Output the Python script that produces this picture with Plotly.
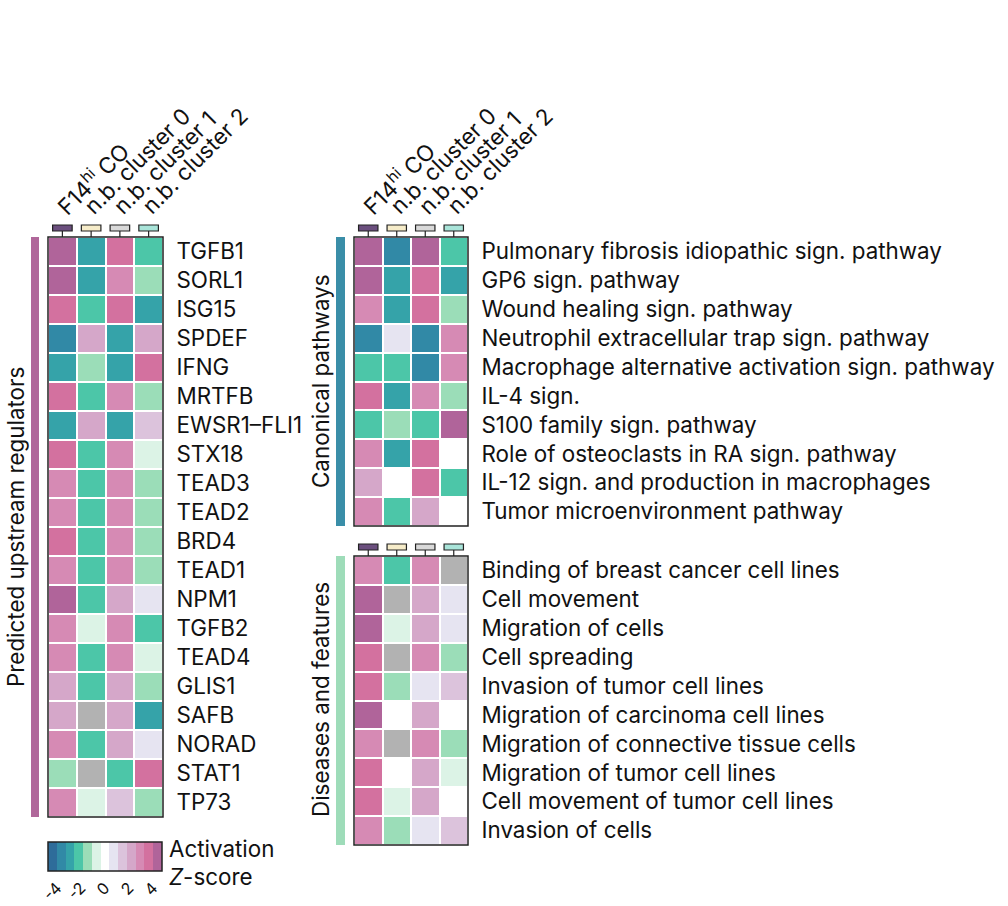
import plotly.graph_objects as go

W, H = 1008, 906

columns = ["F14<sup>hi</sup> CO", "n.b. cluster 0", "n.b. cluster 1", "n.b. cluster 2"]

regulators = ["TGFB1", "SORL1", "ISG15", "SPDEF", "IFNG", "MRTFB", "EWSR1\u2013FLI1", "STX18",
              "TEAD3", "TEAD2", "BRD4", "TEAD1", "NPM1", "TGFB2", "TEAD4", "GLIS1", "SAFB",
              "NORAD", "STAT1", "TP73"]
regulator_z = [
    [4.4, -2.9, 3.7, -2.2],
    [4.4, -2.9, 2.9, -1.5],
    [3.7, -2.2, 3.7, -2.9],
    [-3.7, 2.2, -2.9, 2.2],
    [-2.9, -1.5, -2.9, 3.7],
    [3.7, -2.2, 2.9, -1.5],
    [-2.9, 2.2, -2.9, 1.5],
    [3.7, -2.2, 2.9, -0.7],
    [2.9, -2.2, 2.9, -1.5],
    [2.9, -2.2, 2.9, -1.5],
    [3.7, -2.2, 2.9, -1.5],
    [2.9, -2.2, 2.9, -1.5],
    [4.4, -2.2, 2.2, 0.7],
    [2.9, -0.7, 2.9, -2.2],
    [3.2, -2.2, 2.9, -0.7],
    [2.2, -2.2, 2.2, -1.5],
    [2.2, None, 2.2, -2.9],
    [2.9, -2.2, 2.2, 0.7],
    [-1.5, None, -2.2, 3.7],
    [2.9, -0.7, 1.5, -1.5],
]

pathways = ["Pulmonary fibrosis idiopathic sign. pathway", "GP6 sign. pathway",
            "Wound healing sign. pathway", "Neutrophil extracellular trap sign. pathway",
            "Macrophage alternative activation sign. pathway", "IL-4 sign.",
            "S100 family sign. pathway", "Role of osteoclasts in RA sign. pathway",
            "IL-12 sign. and production in macrophages", "Tumor microenvironment pathway"]
pathway_z = [
    [4.4, -3.7, 4.4, -2.2],
    [4.4, -2.9, 3.7, -2.9],
    [2.9, -2.9, 3.7, -1.5],
    [-3.7, 0.7, -3.7, 2.9],
    [-2.2, -2.2, -3.7, 2.9],
    [3.7, -2.9, 2.9, -1.5],
    [-2.2, -1.5, -2.2, 4.4],
    [2.9, -2.9, 3.7, 0.0],
    [2.2, 0.0, 3.7, -2.2],
    [2.9, -2.2, 2.2, 0.0],
]

diseases = ["Binding of breast cancer cell lines", "Cell movement", "Migration of cells",
            "Cell spreading", "Invasion of tumor cell lines", "Migration of carcinoma cell lines",
            "Migration of connective tissue cells", "Migration of tumor cell lines",
            "Cell movement of tumor cell lines", "Invasion of cells"]
disease_z = [
    [2.9, -2.2, 2.9, None],
    [4.4, None, 2.2, 0.7],
    [4.4, -0.7, 2.2, 0.7],
    [3.7, None, 2.9, -1.5],
    [3.7, -1.5, 0.7, 1.5],
    [4.4, 0.0, 2.2, 0.0],
    [2.9, None, 2.9, -1.5],
    [3.7, 0.0, 2.2, -0.7],
    [3.7, -0.7, 2.2, 0.0],
    [2.9, -1.5, 0.7, 1.5],
]

cbar_ticks = [-4, -2, 0, 2, 4]
ZMIN, ZMAX = -4.75, 4.75

band_colors = ["#2e6c9a", "#3189a6", "#35a3a9", "#4cc6a8", "#9bddb8", "#dcf3e6", "#ffffff",
               "#e6e4f1", "#dcc3dc", "#d5a7c9", "#d68ab4", "#d3719f", "#b0649a"]
col_marker_colors = ["#6b4f7e", "#f6ecc9", "#d9d9d9", "#a9e4d9"]

FONT = "Inter"
FS = 22.4
n = len(band_colors)
cscale = []
for i, c in enumerate(band_colors):
    cscale.append([i / n, c])
    cscale.append([(i + 1) / n, c])

def px_x(x):
    return x / W

def px_y(y):
    return 1 - y / H

panels = [
    # (rows, z, axis suffix, x0, x1, y0, y1)
    (regulators, regulator_z, "", 48, 163, 237, 817),
    (pathways, pathway_z, "2", 354, 468, 237, 526),
    (diseases, disease_z, "3", 354, 468, 556, 845),
]

fig = go.Figure()
shapes = []
annotations = []

for k, (rows, z, sfx, x0, x1, y0, y1) in enumerate(panels):
    xa = "x" + sfx
    ya = "y" + sfx
    idx = list(range(len(columns)))
    fig.add_trace(go.Heatmap(
        z=z, x=idx, y=rows, colorscale=cscale, zmin=ZMIN, zmax=ZMAX,
        xgap=2, ygap=2, xaxis=xa, yaxis=ya, hoverongaps=False,
        showscale=(k == 0),
        colorbar=dict(orientation="h", x=px_x(48), xanchor="left", y=px_y(842), yanchor="top",
                      lenmode="pixels", len=114, thicknessmode="pixels", thickness=29,
                      xpad=0, ypad=0, outlinewidth=1.5, outlinecolor="#222",
                      tickvals=cbar_ticks, ticktext=[str(t) for t in cbar_ticks],
                      tickangle=-45, ticks="", tickfont=dict(family=FONT, size=16, color="#111")),
    ))
    grey = [[1 if v is None else None for v in r] for r in z]
    fig.add_trace(go.Heatmap(
        z=grey, x=idx, y=rows, colorscale=[[0, "#b2b2b2"], [1, "#b2b2b2"]],
        xgap=2, ygap=2, xaxis=xa, yaxis=ya, showscale=False, hoverongaps=False,
    ))
    axkey = "xaxis" + sfx
    aykey = "yaxis" + sfx
    fig.layout[axkey] = dict(domain=[px_x(x0), px_x(x1)], anchor=ya, showticklabels=False,
                             showgrid=False, zeroline=False, range=[-0.5, 3.5], fixedrange=True)
    fig.layout[aykey] = dict(domain=[px_y(y1), px_y(y0)], anchor=xa, side="right",
                             autorange="reversed", showgrid=False, zeroline=False,
                             ticks="outside", ticklen=8, tickcolor="rgba(0,0,0,0)",
                             tickfont=dict(family=FONT, size=FS, color="#111"))
    # border
    shapes.append(dict(type="rect", xref=xa + " domain", yref=ya + " domain", x0=0, x1=1, y0=0, y1=1,
                       line=dict(color="#222", width=1.5), fillcolor="rgba(0,0,0,0)"))
    # column markers
    for i, c in enumerate(col_marker_colors):
        shapes.append(dict(type="rect", xref=xa, yref="paper", x0=i - 0.34, x1=i + 0.34,
                           y0=px_y(y0 - 6), y1=px_y(y0 - 12), fillcolor=c,
                           line=dict(color="#222", width=1.2)))
        shapes.append(dict(type="line", xref=xa, yref="paper", x0=i, x1=i,
                           y0=px_y(y0 - 6), y1=px_y(y0), line=dict(color="#222", width=1.2)))
    # column labels on the top panels
    if y0 < 300:
        cw = (x1 - x0) / len(columns)
        for i, c in enumerate(columns):
            cx = x0 + cw * (i + 0.5)
            annotations.append(dict(text=c, xref="paper", yref="paper", x=px_x(cx - 15), y=px_y(222),
                                    xanchor="left", yanchor="bottom", textangle=-45, showarrow=False,
                                    font=dict(family=FONT, size=FS, color="#111")))

# side bars
bars = [(31, 39, 237, 817, "#b0679a"), (336, 345, 237, 526, "#3a8ea8"), (336, 345, 556, 845, "#9edcb9")]
for bx0, bx1, by0, by1, col in bars:
    shapes.append(dict(type="rect", xref="paper", yref="paper", x0=px_x(bx0), x1=px_x(bx1),
                       y0=px_y(by1), y1=px_y(by0), fillcolor=col, line=dict(width=0)))

# group titles
for txt, xc, yc in [("Predicted upstream regulators", 15, 527), ("Canonical pathways", 320, 381),
                    ("Diseases and features", 320, 700)]:
    annotations.append(dict(text=txt, xref="paper", yref="paper", x=px_x(xc), y=px_y(yc),
                            xanchor="center", yanchor="middle", textangle=-90, showarrow=False,
                            font=dict(family=FONT, size=FS, color="#111")))

annotations.append(dict(text="Activation", xref="paper", yref="paper", x=px_x(167), y=px_y(848),
                        xanchor="left", yanchor="middle", showarrow=False,
                        font=dict(family=FONT, size=FS, color="#111")))
annotations.append(dict(text="<i>Z</i>-score", xref="paper", yref="paper", x=px_x(167), y=px_y(876),
                        xanchor="left", yanchor="middle", showarrow=False,
                        font=dict(family=FONT, size=FS, color="#111")))

fig.update_layout(width=W, height=H, margin=dict(l=0, r=0, t=0, b=0),
                  paper_bgcolor="white", plot_bgcolor="white",
                  shapes=shapes, annotations=annotations, showlegend=False,
                  font=dict(family=FONT, color="#111"))
fig.write_html("out.html", config={"displayModeBar": False, "staticPlot": True})

with open("out.html", encoding="utf-8") as f:
    html = f.read()
html = html.replace("<head>", "<head><style>html,body{margin:0;padding:0;overflow:hidden;}</style>", 1)
with open("out.html", "w", encoding="utf-8") as f:
    f.write(html)
